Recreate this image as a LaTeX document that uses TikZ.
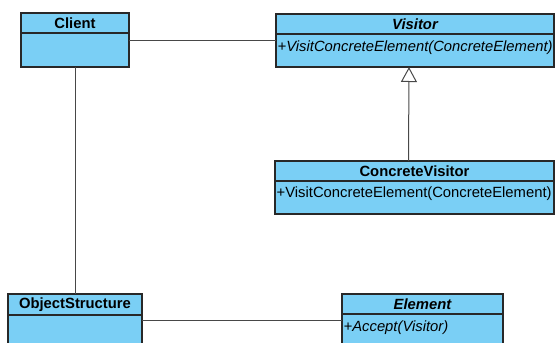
\documentclass[tikz,border=0pt]{standalone}
\usepackage{fontspec}
\setmainfont{Liberation Sans}
\usetikzlibrary{positioning,arrows.meta}
\definecolor{classfill}{RGB}{122,207,245}
\definecolor{classline}{RGB}{40,40,40}
\tikzset{classhead/.style = {draw=classline, fill=classfill, line width=1.2pt, minimum height=20pt, inner sep=0pt, outer sep=0pt, font=\fontsize{14.8}{17}\selectfont\bfseries}}
\tikzset{classbody/.style = {draw=classline, fill=classfill, line width=1.2pt, inner sep=0pt, outer sep=0pt}}
\tikzset{optext/.style = {anchor=west, inner sep=1.5pt, font=\fontsize{14.8}{17}\selectfont}}
\tikzset{assoc/.style = {draw=classline!85, line width=1pt}}
\tikzset{realize/.style = {assoc, -{Triangle[open, length=15pt, width=16pt]}}}

\begin{document}
\begin{tikzpicture}[x=1pt, y=-1pt]
\useasboundingbox (0,0) rectangle (555,343);
\node [classhead, minimum width=108pt, anchor=north west] (clienthead) at (21,13) {Client};
\node [classbody, minimum width=108pt, minimum height=34pt, below=0pt of clienthead] (clientbody) {};

\node [classhead, minimum width=278pt, anchor=north west] (visitorhead) at (276,14) {\itshape Visitor};
\node [classbody, minimum width=278pt, minimum height=33pt, below=0pt of visitorhead] (visitorbody) {};
\node [optext] (visitorop) at ([yshift=-14pt]visitorbody.north west) {\itshape +VisitConcreteElement(ConcreteElement)};

\node [classhead, minimum width=279pt, anchor=north west] (cvhead) at (275,161) {ConcreteVisitor};
\node [classbody, minimum width=279pt, minimum height=33pt, below=0pt of cvhead] (cvbody) {};
\node [optext] (cvop) at ([yshift=-13pt]cvbody.north west) {+VisitConcreteElement(ConcreteElement)};

\node [classhead, minimum width=134pt, minimum height=21pt, anchor=north west] (oshead) at (8,294) {ObjectStructure};
\node [classbody, minimum width=134pt, minimum height=50pt, below=0pt of oshead] (osbody) {};

\node [classhead, minimum width=161pt, anchor=north west] (elemhead) at (342,294) {\itshape Element};
\node [classbody, minimum width=161pt, minimum height=50pt, below=0pt of elemhead] (elembody) {};
\node [optext] (elemop) at ([yshift=-14pt]elembody.north west) {\itshape +Accept(Visitor)};

% associations
\coordinate (cvjoin) at ([yshift=-7pt]clientbody.north east);
\draw [assoc] (cvjoin) -- (cvjoin -| visitorbody.west);
\draw [assoc] (clientbody.south) -- (oshead.north);
\coordinate (osjoin) at ([yshift=-5pt]osbody.north east);
\draw [assoc] (osjoin) -- (osjoin -| elembody.west);
% realization
\draw [realize] ([xshift=-6pt]cvhead.north) -- ([xshift=-6pt]visitorbody.south);
\end{tikzpicture}
\end{document}
